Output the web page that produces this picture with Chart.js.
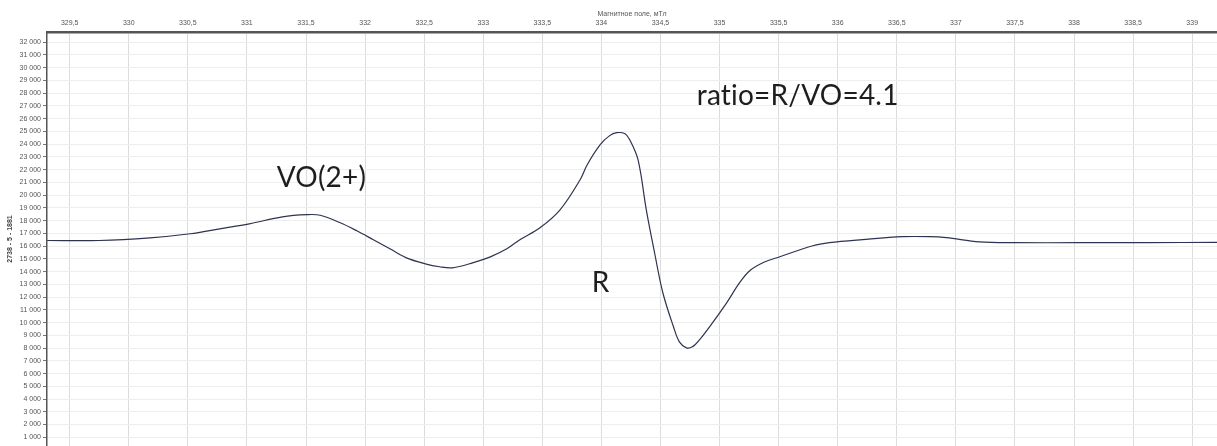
<!DOCTYPE html>
<html><head><meta charset="utf-8">
<script src="https://cdn.jsdelivr.net/npm/chart.js@4.4.1/dist/chart.umd.min.js"></script>
<style>html,body{margin:0;padding:0;background:#fff;overflow:hidden}canvas{display:block}</style>
</head><body>
<canvas id="c" width="1217" height="446"></canvas>
<script>
// Magnetic field (mT) and EPR signal
const fieldMT = [329.31, 329.75, 330.18, 330.52, 330.77, 331.02, 331.30, 331.51, 331.62, 331.79,
  331.93, 332.07, 332.21, 332.35, 332.51, 332.63, 332.74, 332.91, 333.06, 333.20,
  333.31, 333.48, 333.65, 333.82, 333.88, 333.99, 334.07, 334.13, 334.20, 334.24, 334.31,
  334.38, 334.45, 334.52, 334.61, 334.66, 334.72, 334.77, 334.83, 334.94, 335.06,
  335.17, 335.26, 335.38, 335.51, 335.79, 335.93, 336.21, 336.55, 336.78, 336.92, 337.20,
  337.48, 338.05, 338.62, 339.21];
const signal = [16440, 16440, 16650, 16970, 17360, 17750, 18300, 18470, 18420, 17830,
  17200, 16500, 15790, 15080, 14610, 14380, 14300, 14690, 15160, 15790,
  16500, 17440, 18850, 21210, 22390, 23960, 24670, 24900, 24820, 24350, 22780,
  18850, 15480, 12340, 9670, 8490, 8020, 8100, 8650, 9980, 11550,
  13130, 14100, 14750, 15170, 16030, 16270, 16510, 16740, 16740, 16660, 16340,
  16270, 16270, 16270, 16300];
const xTickValues = [329.5, 330, 330.5, 331, 331.5, 332, 332.5, 333, 333.5, 334, 334.5, 335,
  335.5, 336, 336.5, 337, 337.5, 338, 338.5, 339];
const yTickValues = [1000, 2000, 3000, 4000, 5000, 6000, 7000, 8000, 9000, 10000, 11000, 12000,
  13000, 14000, 15000, 16000, 17000, 18000, 19000, 20000, 21000, 22000, 23000, 24000,
  25000, 26000, 27000, 28000, 29000, 30000, 31000, 32000];
const xTitle = 'Магнитное поле, мТл';
const yTitle = '2738 - 5 - 1881';
const noteTexts = ['VO(2+)', 'R', 'ratio=R/VO=4.1'];
const noteX = [331.252, 333.918, 334.807];
const noteY = [20660, 12410, 27100];

const points = fieldMT.map((x, i) => ({x: x, y: signal[i]}));

const notesPlugin = {
  id: 'notes',
  afterDatasetsDraw(chart) {
    const ctx = chart.ctx, xs = chart.scales.x, ys = chart.scales.y;
    ctx.save();
    ctx.font = '28px Lato';
    try { ctx.letterSpacing = '0.2px'; } catch (e) {}
    ctx.fillStyle = '#1e1e1e';
    ctx.textAlign = 'left';
    ctx.textBaseline = 'alphabetic';
    noteTexts.forEach((t, i) => {
      ctx.fillText(t, xs.getPixelForValue(noteX[i]), ys.getPixelForValue(noteY[i]));
    });
    ctx.restore();
  }
};

new Chart(document.getElementById('c'), {
  type: 'line',
  data: { datasets: [{
    data: points,
    borderColor: '#2e3350',
    borderWidth: 1.2,
    pointRadius: 0,
    tension: 0.35,
    fill: false
  }]},
  options: {
    responsive: false,
    animation: false,
    devicePixelRatio: 1,
    layout: { padding: 0 },
    plugins: { legend: { display: false }, tooltip: { enabled: false } },
    scales: {
      x: {
        type: 'linear',
        position: 'top',
        min: 329.308,
        max: 339.21,
        afterBuildTicks(s) { s.ticks = xTickValues.map(v => ({value: v})); },
        afterFit(s) { s.height = 32; s.paddingLeft = 0; s.paddingRight = 0; },
        ticks: {
          font: { family: 'Liberation Sans', size: 7 },
          color: '#555',
          padding: 5,
          maxRotation: 0,
          autoSkip: false,
          callback: v => String(v).replace('.', ',')
        },
        title: {
          display: true,
          text: xTitle,
          font: { family: 'Liberation Sans', size: 7 },
          color: '#555',
          padding: { top: 10, bottom: 0 }
        },
        grid: { color: '#dcdcdc', lineWidth: 1, drawTicks: false },
        border: { color: '#555', width: 2.5 }
      },
      y: {
        type: 'linear',
        min: 317,
        max: 32800,
        afterBuildTicks(s) { s.ticks = yTickValues.map(v => ({value: v})); },
        afterFit(s) { s.width = 47; s.paddingTop = 0; s.paddingBottom = 0; },
        ticks: {
          font: { family: 'Liberation Sans', size: 7 },
          color: '#555',
          padding: 2,
          autoSkip: false,
          callback: v => String(v).replace(/\B(?=(\d{3})+(?!\d))/g, ' ')
        },
        title: {
          display: true,
          text: yTitle,
          font: { family: 'Liberation Sans', size: 7, weight: 'bold' },
          color: '#444',
          padding: { top: 6, bottom: 0 }
        },
        grid: { color: '#eeeeee', lineWidth: 1, tickLength: 4, tickColor: '#777' },
        border: { color: '#555', width: 1.5 }
      }
    }
  },
  plugins: [notesPlugin]
});
</script>
</body></html>
